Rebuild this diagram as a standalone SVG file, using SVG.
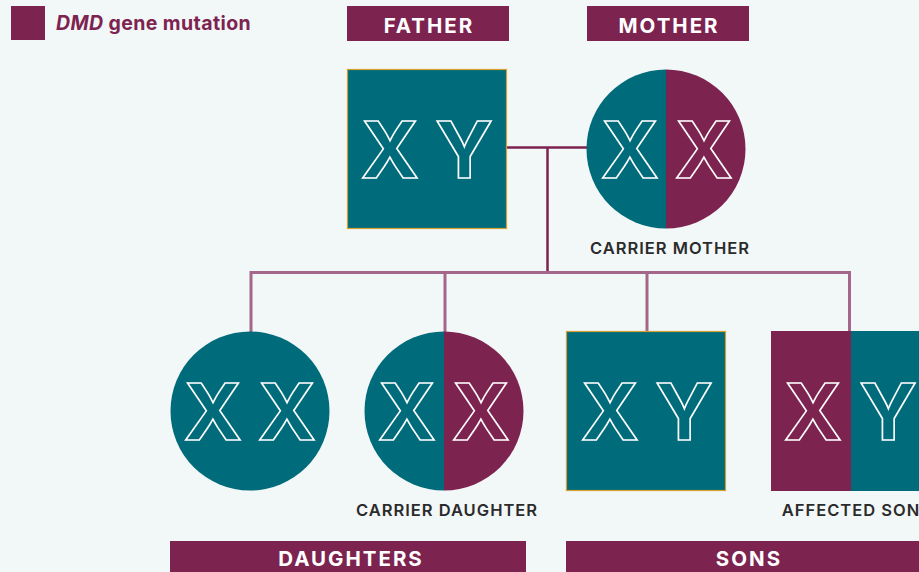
<svg xmlns="http://www.w3.org/2000/svg" width="919" height="572" viewBox="0 0 919 572">
<defs>
<style>
.bg{fill:#f2f7f7}
.teal{fill:#006b7a}
.plum{fill:#7d2350}
.gold{stroke:#d4a030;stroke-width:1.2}
.chr{font-family:Inter,"Liberation Sans",sans-serif;font-weight:700;font-size:79px;text-anchor:middle;stroke:#ffffff;stroke-width:1.6}
.chr.t{fill:#006b7a}
.chr.p{fill:#7d2350}
.hdr{font-family:Inter,"Liberation Sans",sans-serif;font-weight:700;font-size:20.5px;fill:#ffffff;text-anchor:middle;letter-spacing:2px}
.lbl{font-family:Inter,"Liberation Sans",sans-serif;font-weight:600;font-size:16.5px;fill:#2b2b2b;text-anchor:middle;letter-spacing:1px}
.leg{font-family:Inter,"Liberation Sans",sans-serif;font-weight:700;font-size:19.5px;fill:#7d2350;letter-spacing:0.4px}
.c1{fill:none;stroke:#7d2350;stroke-width:2.5}
.c2{fill:none;stroke:#a5668c;stroke-width:3}
</style>
<clipPath id="cm"><circle cx="666" cy="149" r="79.5"/></clipPath>
<clipPath id="cd"><circle cx="444" cy="411" r="79.5"/></clipPath>
</defs>
<rect class="bg" x="0" y="0" width="919" height="572"/>

<g id="legend">
<rect class="plum" x="11" y="6" width="34" height="34"/>
<text class="leg" x="56" y="30"><tspan font-style="italic">DMD</tspan> gene mutation</text>
</g>

<g id="connectors">
<path class="c1" d="M507 147.5H587M547.5 147.5V272"/>
<path class="c2" d="M251 272.5H849.5M251 271V332M445 271V332M647 271V332M849.5 271V332"/>
</g>

<g id="father-label">
<rect class="plum" x="347" y="6" width="162" height="35"/>
<text class="hdr" x="429" y="33">FATHER</text>
</g>
<g id="mother-label">
<rect class="plum" x="587" y="6" width="162" height="35"/>
<text class="hdr" x="669" y="33">MOTHER</text>
</g>

<g id="father">
<rect class="teal gold" x="347.5" y="69.5" width="159" height="159"/>
<text class="chr t" x="390" y="178">X</text>
<text class="chr t" x="464" y="178">Y</text>
</g>

<g id="mother">
<g clip-path="url(#cm)">
<rect class="teal" x="586" y="69" width="80" height="161"/>
<rect class="plum" x="666" y="69" width="81" height="161"/>
</g>
<text class="chr t" x="630" y="178">X</text>
<text class="chr p" x="704" y="178">X</text>
<text class="lbl" x="670" y="254">CARRIER MOTHER</text>
</g>

<g id="daughter1">
<circle class="teal" cx="250" cy="411" r="79.5"/>
<text class="chr t" x="213" y="440">X</text>
<text class="chr t" x="287" y="440">X</text>
</g>

<g id="daughter2">
<g clip-path="url(#cd)">
<rect class="teal" x="364" y="331" width="80" height="161"/>
<rect class="plum" x="444" y="331" width="81" height="161"/>
</g>
<text class="chr t" x="407" y="440">X</text>
<text class="chr p" x="481" y="440">X</text>
<text class="lbl" x="447" y="516">CARRIER DAUGHTER</text>
</g>

<g id="son1">
<rect class="teal gold" x="566.5" y="331.5" width="159" height="159"/>
<text class="chr t" x="610" y="440">X</text>
<text class="chr t" x="684" y="440">Y</text>
</g>

<g id="son2">
<rect class="plum" x="771" y="331" width="80" height="160"/>
<rect class="teal" x="851" y="331" width="80" height="160"/>
<text class="chr p" x="813" y="440">X</text>
<text class="chr t" x="888" y="440">Y</text>
<text class="lbl" x="851" y="516">AFFECTED SON</text>
</g>

<g id="daughters-label">
<rect class="plum" x="170" y="541" width="356" height="40"/>
<text class="hdr" x="351" y="566">DAUGHTERS</text>
</g>
<g id="sons-label">
<rect class="plum" x="566" y="541" width="356" height="40"/>
<text class="hdr" x="749" y="566">SONS</text>
</g>
</svg>
